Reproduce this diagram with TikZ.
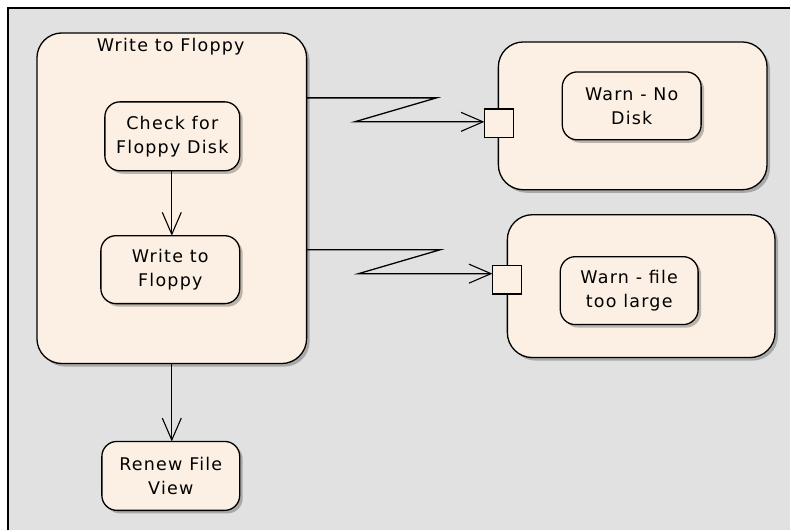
\documentclass[tikz,border=0pt]{standalone}
\usepackage{fontspec}
\setmainfont{DejaVu Sans}[LetterSpace=7]
\usetikzlibrary{arrows.meta,shadows}
\definecolor{bg}{HTML}{E1E1E1}
\definecolor{cream}{HTML}{FBF0E3}
\tikzset{
  shade3/.style={drop shadow={shadow xshift=3pt, shadow yshift=-3pt, fill=black, opacity=0.25}},
  actbox/.style={draw=black, line width=1.3pt, fill=cream, rounded corners=15pt, shade3,
    align=center, inner sep=0pt, outer sep=0pt, font=\fontsize{17.5}{24}\selectfont},
  bigbox/.style={draw=black, line width=1.3pt, fill=cream, rounded corners=25pt, shade3,
    inner sep=0pt, outer sep=0pt},
  pinbox/.style={draw=black, line width=1.3pt, fill=cream, minimum width=29pt, minimum height=29pt,
    inner sep=0pt, outer sep=0pt},
  flow/.style={line width=1.3pt, -{Straight Barb[length=22pt,width=19pt,line width=1.1pt]}},
  label/.style={font=\fontsize{17.5}{24}\selectfont, inner sep=0pt}
}
\begin{document}
\begin{tikzpicture}[x=1pt,y=-1pt]
\fill[white] (0,0) rectangle (791,531);
\fill[bg] (8,8) rectangle (791,531);
\draw[line width=2pt] (8,531) -- (8,8) -- (791,8);

% containers
\node[bigbox, minimum width=270pt, minimum height=331pt] (wf) at (172,198.5) {};
\node[label] (wft) at (171,47) {Write to Floppy};
\node[bigbox, minimum width=269pt, minimum height=148pt] (c1) at (633.5,116) {};
\node[bigbox, minimum width=268pt, minimum height=143pt] (c2) at (642,286.5) {};

% actions
\node[actbox, minimum width=135pt, minimum height=69pt] (check) at (172.5,136.5) {Check for\\Floppy Disk};
\node[actbox, minimum width=139pt, minimum height=68pt] (write) at (170.5,270) {Write to\\Floppy};
\node[actbox, minimum width=138pt, minimum height=69pt] (renew) at (171,476.5) {Renew File\\View};
\node[actbox, minimum width=139pt, minimum height=68pt] (warn1) at (632.5,106) {Warn - No\\Disk};
\node[actbox, minimum width=138pt, minimum height=68pt] (warn2) at (630,291) {Warn - file\\too large};

% pins
\node[pinbox] (p1) at (499.5,123.5) {};
\node[pinbox] (p2) at (507.5,280) {};

% flows
\draw[flow] (check.south -| 172,0) -- (write.north -| 172,0);
\draw[flow] (wf.south -| 172,0) -- (renew.north -| 172,0);

\coordinate (z1a) at (437,98);
\coordinate (z1b) at (355,122);
\draw[flow] (wf.east |- z1a) -- (z1a) -- (z1b) -- (z1b -| p1.west);

\coordinate (z2a) at (441,250);
\coordinate (z2b) at (359,274);
\draw[flow] (wf.east |- z2a) -- (z2a) -- (z2b) -- (z2b -| p2.west);
\end{tikzpicture}
\end{document}
